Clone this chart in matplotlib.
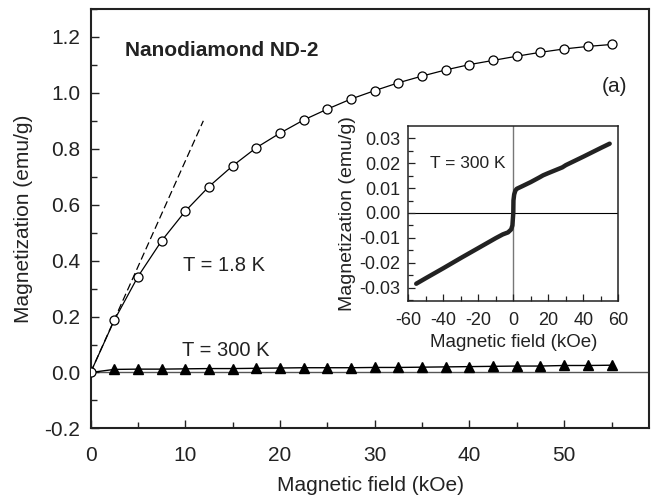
import matplotlib
matplotlib.use("Agg")
import matplotlib.pyplot as plt
from matplotlib.ticker import MultipleLocator

plt.rcParams['font.family'] = ['Liberation Sans', 'DejaVu Sans']
plt.rcParams['axes.unicode_minus'] = False

# Magnetization vs field, T = 1.8 K (open circles)
field_18K = [0, 2.5, 5, 7.5, 10, 12.5, 15, 17.5, 20, 22.5, 25, 27.5, 30,
             32.5, 35, 37.5, 40, 42.5, 45, 47.5, 50, 52.5, 55]
mag_18K = [0.0, 0.187, 0.343, 0.471, 0.577, 0.665, 0.739, 0.804, 0.856,
           0.903, 0.942, 0.978, 1.008, 1.036, 1.060, 1.082, 1.101, 1.116,
           1.131, 1.145, 1.157, 1.166, 1.173]

# Magnetization vs field, T = 300 K (filled triangles)
field_300K = [0, 2.5, 5, 7.5, 10, 12.5, 15, 17.5, 20, 22.5, 25, 27.5, 30,
              32.5, 35, 37.5, 40, 42.5, 45, 47.5, 50, 52.5, 55]
mag_300K = [0.0, 0.011, 0.012, 0.012, 0.013, 0.014, 0.014, 0.015, 0.016,
            0.017, 0.017, 0.017, 0.018, 0.018, 0.019, 0.020, 0.021, 0.022,
            0.023, 0.023, 0.025, 0.025, 0.026]

# Initial-slope (linear) guide line
slope_field = [0, 11.9]
slope_mag = [0.0, 0.90]

# Inset: full loop at 300 K
inset_field = [-55.4, -50, -40, -30, -20, -10, -6, -3, -1.2, -0.5, 0.0, 0.1,
               0.5, 1.2, 2, 5, 10, 15, 17, 20, 28, 30, 40, 50, 55]
inset_mag = [-0.0284, -0.0262, -0.0222, -0.0181, -0.0141, -0.0101, -0.0086,
             -0.0078, -0.0066, -0.0050, 0.0, 0.0050, 0.0074, 0.0090, 0.0097,
             0.0107, 0.0124, 0.0143, 0.0151, 0.0160, 0.0183, 0.0192, 0.0226,
             0.0261, 0.0278]

TXT = '#222222'

fig = plt.figure(figsize=(6.52, 4.97), dpi=100)
ax = fig.add_axes([0.139, 0.138, 0.857, 0.844])

ax.axhline(0, color='#555555', lw=1.0, zorder=1)
ax.plot(slope_field, slope_mag, color='black', lw=0.9, ls=(0, (6, 3)), zorder=2)
ax.plot(field_300K, mag_300K, color='black', lw=1.0, marker='^', ms=6.5,
        mfc='black', mec='black', markevery=list(range(1, len(field_300K))),
        zorder=3)
ax.plot(field_18K, mag_18K, color='black', lw=0.9, marker='o', ms=6.5,
        mfc='white', mec='black', mew=0.9, zorder=4)

ax.set_xlim(0, 59)
ax.set_ylim(-0.2, 1.3)
ax.xaxis.set_major_locator(MultipleLocator(10))
ax.xaxis.set_minor_locator(MultipleLocator(5))
ax.set_yticks([-0.2, 0.0, 0.2, 0.4, 0.6, 0.8, 1.0, 1.2])
ax.yaxis.set_minor_locator(MultipleLocator(0.1))
ax.set_yticklabels(['-0.2', '0.0', '0.2', '0.4', '0.6', '0.8', '1.0', '1.2'])
ax.tick_params(which='both', direction='in', labelsize=15, color=TXT,
               labelcolor=TXT)
ax.tick_params(which='major', length=6, width=1.0)
ax.tick_params(which='minor', length=4, width=1.0)
ax.tick_params(axis='x', which='major', pad=12.5)
ax.tick_params(axis='y', which='major', pad=7.5)
for s in ax.spines.values():
    s.set_linewidth(1.5)
    s.set_color(TXT)
ax.set_xlabel('Magnetic field (kOe)', fontsize=15, labelpad=8, color=TXT)
ax.set_ylabel('Magnetization (emu/g)', fontsize=15, labelpad=8, color=TXT)

ax.text(3.6, 1.153, 'Nanodiamond ND-2', fontsize=15, fontweight='bold',
        ha='left', va='center', color=TXT)
ax.text(56.7, 1.024, '(a)', fontsize=15, ha='right', va='center', color=TXT)
ax.text(9.76, 0.384, 'T = 1.8 K', fontsize=14.5, ha='left', va='center', color=TXT)
ax.text(9.6, 0.08, 'T = 300 K', fontsize=14.5, ha='left', va='center', color=TXT)

# Inset
axi = fig.add_axes([0.626, 0.395, 0.3225, 0.351])
axi.axhline(0, color='black', lw=0.8, zorder=1)
axi.axvline(0, color='#777777', lw=1.0, zorder=1)
axi.plot(inset_field, inset_mag, color='#222222', lw=3.2,
         solid_capstyle='round', solid_joinstyle='round', zorder=3)
axi.set_xlim(-60, 60)
axi.set_ylim(-0.0352, 0.0348)
axi.set_xticks([-60, -40, -20, 0, 20, 40, 60])
axi.xaxis.set_minor_locator(MultipleLocator(10))
axi.set_yticks([-0.03, -0.02, -0.01, 0.0, 0.01, 0.02, 0.03])
axi.set_yticklabels(['-0.03', '-0.02', '-0.01', '0.00', '0.01', '0.02', '0.03'])
axi.yaxis.set_minor_locator(MultipleLocator(0.005))
axi.tick_params(which='both', direction='in', labelsize=13, color=TXT,
                labelcolor=TXT)
axi.tick_params(which='major', length=5, width=0.9)
axi.tick_params(which='minor', length=3.5, width=0.9)
axi.tick_params(axis='x', which='major', pad=8.5)
axi.tick_params(axis='y', which='major', pad=5.8)
for s in axi.spines.values():
    s.set_linewidth(1.1)
    s.set_color(TXT)
axi.set_xlabel('Magnetic field (kOe)', fontsize=13.5, labelpad=3, color=TXT)
axi.set_ylabel('Magnetization (emu/g)', fontsize=14, labelpad=2, color=TXT)
axi.text(-47.8, 0.0197, 'T = 300 K', fontsize=12.5, ha='left', va='center', color=TXT)

fig.savefig('out.png', dpi=100)
